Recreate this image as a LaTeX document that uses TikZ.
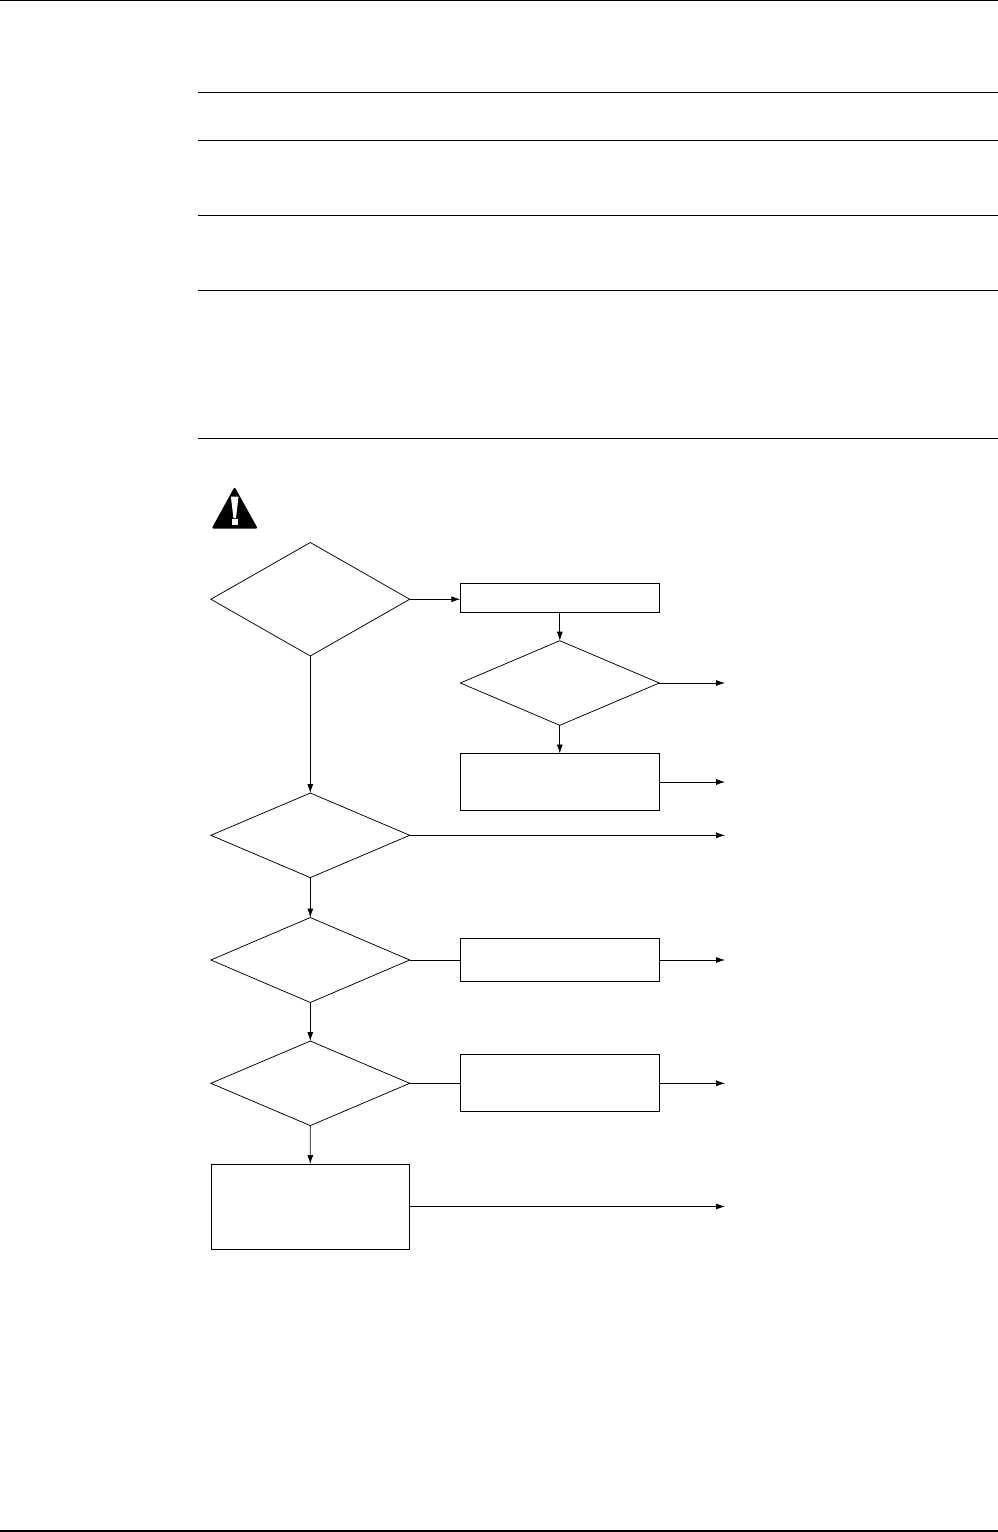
\documentclass[tikz,border=0pt]{standalone}
\usetikzlibrary{arrows.meta,shapes.geometric}
\tikzset{
  x=1pt,y=-1pt,
  rulel/.style={line width=1pt,black},
  flow/.style={line width=0.75pt,black},
  conn/.style={flow,-{Latex[length=9pt,width=6pt]}},
  plain/.style={flow},
  boxn/.style={draw=black,line width=0.75pt,fill=white,rectangle,inner sep=0pt,outer sep=0pt}
}
\newcommand{\dnode}[5]{% name, left, right, top, bottom
  \coordinate (#1W) at (#2,{(#4+#5)/2});
  \coordinate (#1E) at (#3,{(#4+#5)/2});
  \coordinate (#1N) at ({(#2+#3)/2},#4);
  \coordinate (#1S) at ({(#2+#3)/2},#5);
  \draw[flow,line join=miter,fill=white] (#1W)--(#1N)--(#1E)--(#1S)--cycle;
}
\begin{document}
\begin{tikzpicture}
\useasboundingbox (0,0) rectangle (998,1532);
\fill[white] (0,0) rectangle (998,1532);
% page and table rules
\coordinate (t0l) at (0,0.7);\coordinate (t0r) at (998,0.7);
\draw[rulel,line width=1.3pt] (t0l)--(t0r);
\foreach \y in {92.4,140.4,215.4,290.6,438.4}{
  \draw[rulel,line width=0.8pt] (198.2,\y)--(998,\y);
}
\coordinate (b0l) at (0,1531);\coordinate (b0r) at (998,1531);
\draw[rulel,line width=1.3pt] (b0l)--(b0r);
% warning sign
\fill[black,rounded corners=2pt] (234.6,486.8)--(257.8,528.6)--(211.6,528.6)--cycle;
\fill[white] (230.9,496.7)--(238.5,496.7)--(236,518)--(233.4,518)--cycle;
\fill[white] (231.7,519.3) rectangle (237.7,525);
% diamonds
\dnode{a}{210.9}{409.7}{542.5}{656}
\dnode{b}{460.3}{659.3}{640.7}{725.3}
\dnode{c}{210.9}{409.7}{793}{877.6}
\dnode{d}{210.9}{409.7}{917.5}{1002.5}
\dnode{e}{210.9}{409.7}{1041}{1125.6}
% boxes
\node[boxn,minimum width=199pt,minimum height=28.3pt] (p1) at (559.8,597.9) {};
\node[boxn,minimum width=199pt,minimum height=57pt] (p2) at (559.8,782) {};
\node[boxn,minimum width=199pt,minimum height=42.6pt] (p3) at (559.8,960) {};
\node[boxn,minimum width=199pt,minimum height=57pt] (p4) at (559.8,1083.3) {};
\node[boxn,minimum width=198.8pt,minimum height=85pt] (p5) at (310.3,1206.5) {};
% free ends
\coordinate (o1) at (725,683);
\coordinate (o2) at (725,782);
\coordinate (o3) at (725,835.3);
\coordinate (o4) at (725,960);
\coordinate (o5) at (725,1083.3);
\coordinate (o6) at (725,1206.5);
% connectors
\draw[conn] (aE)--(p1.west|-aE);
\draw[conn] (p1.south)--(bN);
\draw[conn] (bE)--(o1);
\draw[conn] (bS)--(p2.north);
\draw[conn] (p2.east)--(o2);
\draw[conn] (aS)--(cN);
\draw[conn] (cE)--(o3);
\draw[conn] (cS)--(dN);
\draw[plain] (dE)--(p3.west);
\draw[conn] (p3.east)--(o4);
\draw[conn] (dS)--(eN);
\draw[plain] (eE)--(p4.west);
\draw[conn] (p4.east)--(o5);
\draw[conn] (eS)--(p5.north);
\draw[conn] (p5.east)--(o6);
\end{tikzpicture}
\end{document}
